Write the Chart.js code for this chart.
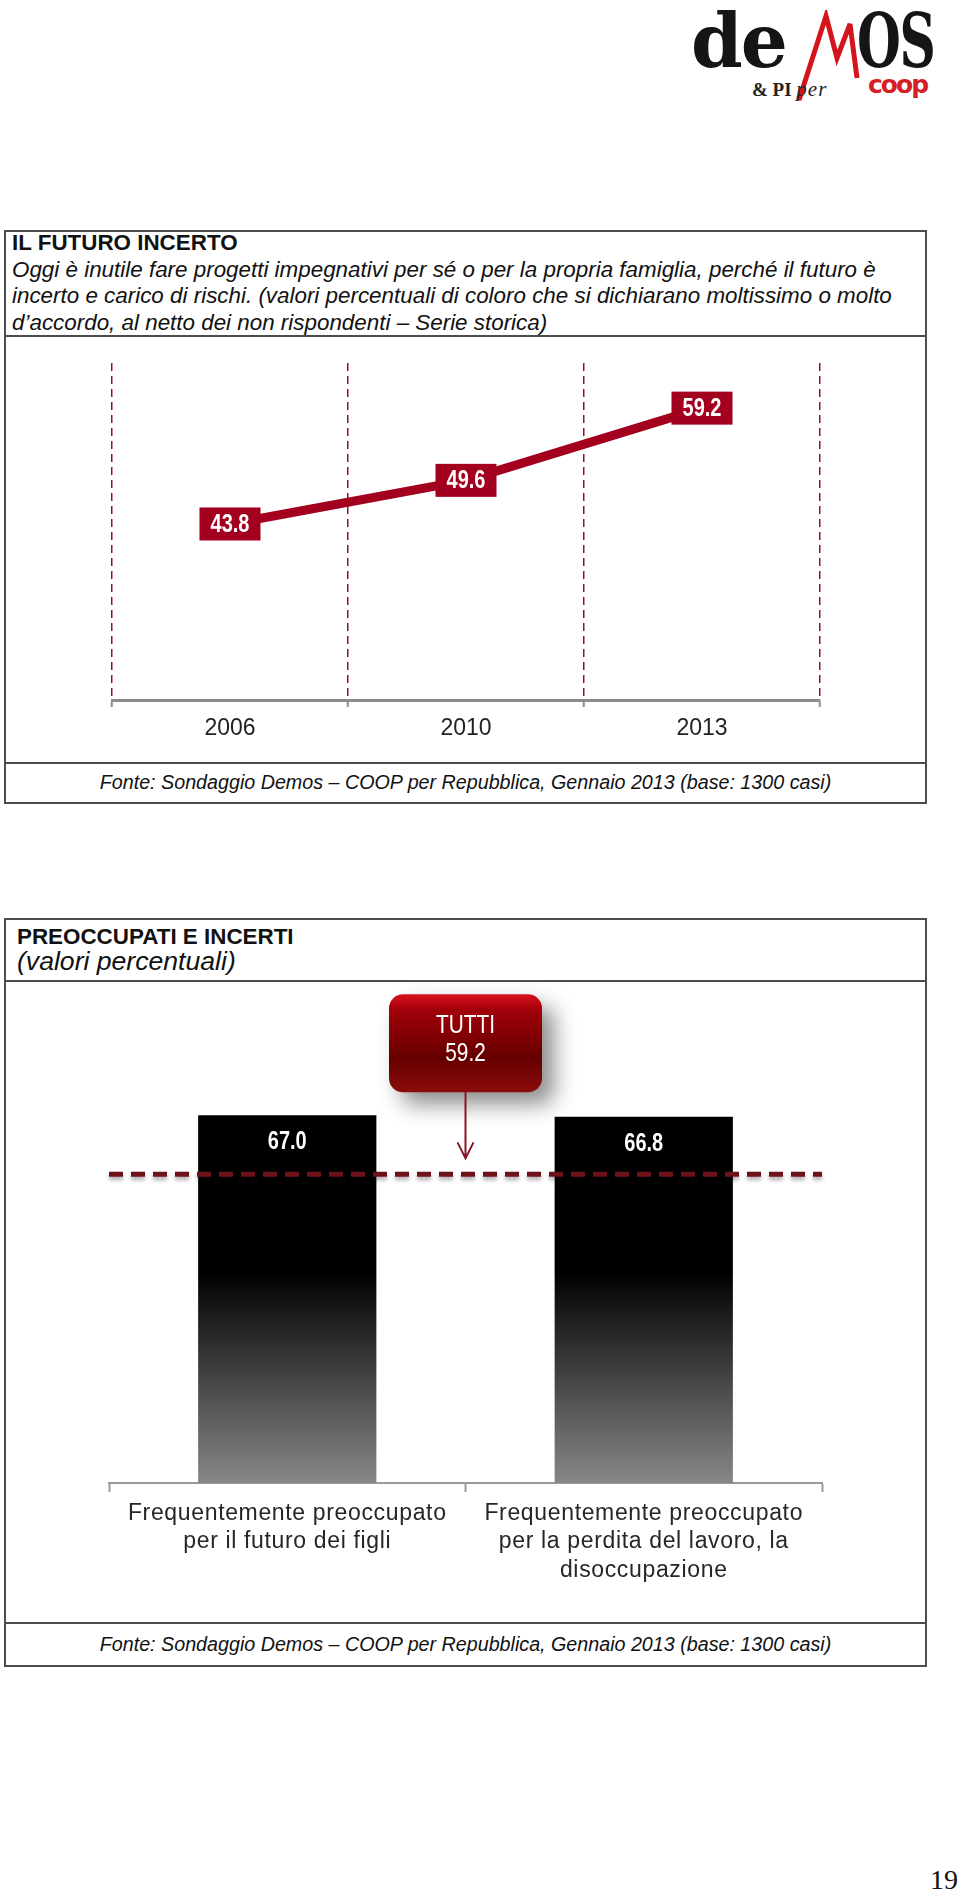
<!DOCTYPE html>
<html lang="it">
<head>
<meta charset="utf-8">
<title>Il futuro incerto - Preoccupati e incerti</title>
<script src="https://cdn.jsdelivr.net/npm/chart.js@4.4.1/dist/chart.umd.min.js"></script>
<style>
  body { margin:0; background:#fff; }
  #page { position:relative; width:960px; height:1897px; background:#fff; overflow:hidden;
          font-family:"Liberation Sans",Arial,sans-serif; color:#111; }
  .box  { position:absolute; left:4px; width:923px; border:2px solid #4d4d4d; box-sizing:border-box; }
  .rule { position:absolute; left:4px; width:923px; height:2px; background:#4d4d4d; }
  .txt  { position:absolute; font-size:22.4px; white-space:nowrap; }
  .fonte { left:4px; width:923px; text-align:center; font-style:italic; font-size:19.7px; line-height:26px; }
  canvas { position:absolute; }
  #logo span { position:absolute; white-space:nowrap; }
  .lg { font-family:"DejaVu Serif",serif; font-weight:bold; font-size:74px; line-height:74px; color:#151515; }
</style>
</head>
<body>
<div id="page">

  <!-- logo -->
  <div id="logo">
    <span class="lg" style="left:691px;top:4px;letter-spacing:-2px">de</span>
    <svg style="position:absolute;left:795px;top:10px" width="66" height="95">
      <polyline points="4,90 31,6 42,48 55,14 62,68" fill="none" stroke="#d4161c" stroke-width="5" stroke-linejoin="miter"/>
    </svg>
    <span class="lg" style="left:857px;top:4px;transform:scaleX(0.68);transform-origin:left top;letter-spacing:-2px">OS</span>
    <span style="left:752px;top:77px;font:bold 19px 'Liberation Serif',serif;color:#222">&amp; PI <i style="font-weight:normal;font-size:21px;letter-spacing:1px">per</i></span>
    <span style="left:868px;top:70px;font:bold 25px 'DejaVu Sans',sans-serif;letter-spacing:-2px;color:#d41f26">coop</span>
  </div>

  <!-- riquadro 1 -->
  <div class="box" style="top:230px;height:574px"></div>
  <div class="rule" style="top:335px"></div>
  <div class="rule" style="top:762px"></div>
  <div class="txt" style="left:12px;top:230px;line-height:26.5px">
    <b>IL FUTURO INCERTO</b><br>
    <i>Oggi è inutile fare progetti impegnativi per sé o per la propria famiglia, perché il futuro è<br>
    incerto e carico di rischi. (valori percentuali di coloro che si dichiarano moltissimo o molto<br>
    d’accordo, al netto dei non rispondenti – Serie storica)</i>
  </div>
  <canvas id="chartFuturo" width="922" height="425" style="left:4px;top:337px"></canvas>
  <div class="txt fonte" style="top:769px">Fonte: Sondaggio Demos – COOP per Repubblica, Gennaio 2013 (base: 1300 casi)</div>

  <!-- riquadro 2 -->
  <div class="box" style="top:918px;height:749px"></div>
  <div class="rule" style="top:980px"></div>
  <div class="rule" style="top:1622px"></div>
  <div class="txt" style="left:17px;top:925px;line-height:24px">
    <b>PREOCCUPATI E INCERTI</b><br>
    <i style="font-size:26.6px">(valori percentuali)</i>
  </div>
  <canvas id="chartPreoccupati" width="922" height="640" style="left:4px;top:982px"></canvas>
  <div class="txt fonte" style="top:1631px">Fonte: Sondaggio Demos – COOP per Repubblica, Gennaio 2013 (base: 1300 casi)</div>

  <div class="txt" style="right:2px;top:1864px;font:28px 'Liberation Serif',serif;color:#111">19</div>
</div>

<script>
// serie storica
const anni = ['2006', '2010', '2013'];
const valoriFuturo = [43.8, 49.6, 59.2];

// preoccupati e incerti
const categorie = [
  ['Frequentemente preoccupato', 'per il futuro dei figli'],
  ['Frequentemente preoccupato', 'per la perdita del lavoro, la', 'disoccupazione']
];
const valoriPreoccupati = [67.0, 66.8];
const valoreTutti = 59.2;

const rosso = '#a3001f';
const sans = '"Liberation Sans", Arial, sans-serif';

// testo "stretto": il font narrow non c'e', si comprime in orizzontale
function testoStretto(ctx, s, x, y, font, k) {
  ctx.save();
  ctx.font = font;
  ctx.textAlign = 'center';
  ctx.textBaseline = 'middle';
  ctx.translate(x, y);
  ctx.scale(k, 1);
  ctx.fillText(s, 0, 0);
  ctx.restore();
}

// riquadri rossi con il valore sopra ogni punto
const etichetteRosse = {
  id: 'etichetteRosse',
  afterDatasetsDraw(chart) {
    const ctx = chart.ctx;
    ctx.save();
    chart.getDatasetMeta(0).data.forEach((pt, i) => {
      ctx.fillStyle = rosso;
      ctx.fillRect(pt.x - 30.5, pt.y - 16.5, 61, 33);
      ctx.fillStyle = '#fff';
      testoStretto(ctx, valoriFuturo[i].toFixed(1), pt.x, pt.y + 1, 'bold 25px ' + sans, 0.8);
    });
    ctx.restore();
  }
};

new Chart(document.getElementById('chartFuturo'), {
  type: 'line',
  data: {
    labels: anni,
    datasets: [{ data: valoriFuturo, borderColor: rosso, borderWidth: 9, pointRadius: 0, tension: 0 }]
  },
  options: {
    responsive: false,
    animation: false,
    layout: { padding: { left: 108, right: 106, top: 26, bottom: 20 } },
    plugins: { legend: { display: false }, tooltip: { enabled: false } },
    scales: {
      x: {
        offset: true,
        grid: { offset: true, color: '#8a1232', lineWidth: 1.5, tickLength: 7, tickColor: '#8c8c8c', tickWidth: 2 },
        border: { color: '#8c8c8c', width: 3, dash: [8, 5] },
        ticks: { color: '#222', font: { family: sans, size: 23 }, padding: 8 },
        afterFit(s) { s.height = 42; }
      },
      y: { display: false, min: 20.4, max: 65.2 }
    }
  },
  plugins: [etichetteRosse]
});

// barre nere che sfumano verso il grigio
function sfumatura(c) {
  const a = c.chart.chartArea;
  if (!a) return '#000';
  const g = c.chart.ctx.createLinearGradient(0, a.top, 0, a.bottom);
  g.addColorStop(0, '#000');
  g.addColorStop(0.57, '#000');
  g.addColorStop(1, '#878787');
  return g;
}

const spaziatura = {
  id: 'spaziatura',
  beforeDraw(chart) { chart.ctx.letterSpacing = '0.65px'; }
};

// valori sulle barre, linea "tutti" e riquadro
const lineaTutti = {
  id: 'lineaTutti',
  afterDatasetsDraw(chart) {
    const { ctx, chartArea: a, scales: { x, y } } = chart;
    const yT = y.getPixelForValue(valoreTutti);
    ctx.save();
    ctx.letterSpacing = '0px';
    ctx.fillStyle = '#fff';
    chart.getDatasetMeta(0).data.forEach((b, i) => {
      testoStretto(ctx, valoriPreoccupati[i].toFixed(1), b.x, b.y + 27, 'bold 25px ' + sans, 0.8);
    });

    ctx.save();
    ctx.shadowColor = 'rgba(0,0,0,0.35)';
    ctx.shadowBlur = 4;
    ctx.shadowOffsetY = 3;
    ctx.setLineDash([14, 8]);
    ctx.lineWidth = 5;
    ctx.strokeStyle = '#6e1118';
    ctx.beginPath();
    ctx.moveTo(a.left, yT);
    ctx.lineTo(a.right, yT);
    ctx.stroke();
    ctx.restore();

    const xm = (x.getPixelForValue(0) + x.getPixelForValue(1)) / 2;
    const w = 153, h = 98, top = yT - 180;
    ctx.save();
    ctx.shadowColor = 'rgba(0,0,0,0.45)';
    ctx.shadowBlur = 22;
    ctx.shadowOffsetX = 12;
    ctx.shadowOffsetY = 12;
    const g = ctx.createLinearGradient(0, top, 0, top + h);
    g.addColorStop(0, '#d8121c');
    g.addColorStop(0.15, '#a3000a');
    g.addColorStop(0.65, '#650000');
    g.addColorStop(1, '#8c0c0c');
    ctx.fillStyle = g;
    ctx.beginPath();
    ctx.roundRect(xm - w / 2, top, w, h, 14);
    ctx.fill();
    ctx.restore();

    ctx.fillStyle = '#fff';
    testoStretto(ctx, 'TUTTI', xm, top + 31, '26px ' + sans, 0.8);
    testoStretto(ctx, valoreTutti.toFixed(1), xm, top + 59, '26px ' + sans, 0.8);

    const tip = yT - 16;
    ctx.strokeStyle = '#8b1426';
    ctx.lineWidth = 2;
    ctx.beginPath();
    ctx.moveTo(xm, top + h);
    ctx.lineTo(xm, tip);
    ctx.moveTo(xm - 8, tip - 16);
    ctx.lineTo(xm, tip);
    ctx.lineTo(xm + 8, tip - 16);
    ctx.stroke();
    ctx.restore();
  }
};

new Chart(document.getElementById('chartPreoccupati'), {
  type: 'bar',
  data: {
    labels: categorie,
    datasets: [{ data: valoriPreoccupati, backgroundColor: sfumatura, barPercentage: 1, categoryPercentage: 0.5 }]
  },
  options: {
    responsive: false,
    animation: false,
    layout: { padding: { left: 105, right: 104, top: 10, bottom: 0 } },
    plugins: { legend: { display: false }, tooltip: { enabled: false } },
    scales: {
      x: {
        offset: true,
        grid: { offset: true, drawOnChartArea: false, tickLength: 9, tickColor: '#9a9a9a', tickWidth: 2 },
        border: { color: '#9a9a9a', width: 2 },
        ticks: { color: '#262626', font: { family: sans, size: 23, lineHeight: 1.24 }, padding: 7 },
        afterFit(s) { s.height = 139; }
      },
      y: { display: false, min: 18.4, max: 83.3 }
    }
  },
  plugins: [spaziatura, lineaTutti]
});
</script>
</body>
</html>
